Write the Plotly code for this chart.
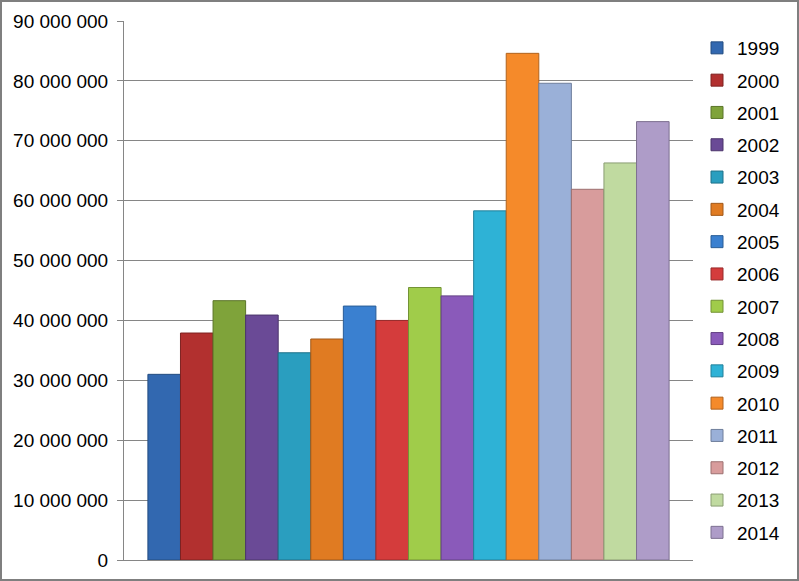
import plotly.graph_objects as go

years = ["1999", "2000", "2001", "2002", "2003", "2004", "2005", "2006",
         "2007", "2008", "2009", "2010", "2011", "2012", "2013", "2014"]
values = [31_000_000, 37_900_000, 43_300_000, 40_900_000, 34_600_000, 36_900_000,
          42_400_000, 40_000_000, 45_500_000, 44_100_000, 58_300_000, 84_600_000,
          79_600_000, 61_900_000, 66_300_000, 73_200_000]
colors = ["#3268B0", "#B2302F", "#7FA33A", "#6A4A96", "#2A9EBF", "#E07B22",
          "#3A80D0", "#D43C3C", "#A0CC4A", "#8A5ABA", "#2EB2D6", "#F58A2A",
          "#9AB0D8", "#D89C9C", "#C0DAA0", "#AE9CC8"]
line_colors = ["#234C80", "#7E2221", "#5B7529", "#4B356B", "#1E7189", "#A15818",
               "#295C96", "#982B2B", "#739335", "#634085", "#21809A", "#B0631E",
               "#6F7F9C", "#9C7070", "#8A9D73", "#7D7090"]
category = [""]

tick_vals = [0, 10_000_000, 20_000_000, 30_000_000, 40_000_000, 50_000_000,
             60_000_000, 70_000_000, 80_000_000, 90_000_000]
tick_text = ["0", "10 000 000", "20 000 000", "30 000 000", "40 000 000", "50 000 000",
             "60 000 000", "70 000 000", "80 000 000", "90 000 000"]

fig = go.Figure()
for yr, v, c, lc in zip(years, values, colors, line_colors):
    fig.add_trace(go.Bar(
        x=category, y=[v], name=yr, legendgroup=yr,
        marker=dict(color=c, line=dict(color=lc, width=1)),
    ))

W, H = 799, 581
ml, mr, mt, mb = 124, 106, 21, 21
pw, ph = W - ml - mr, H - mt - mb

fig.update_layout(
    width=W, height=H,
    margin=dict(l=ml, r=mr, t=mt, b=mb, pad=0, autoexpand=False),
    paper_bgcolor="white", plot_bgcolor="white",
    barmode="group", bargap=0.084, bargroupgap=0,
    font=dict(family="Liberation Sans, Arial, sans-serif", size=19, color="black"),
    showlegend=True,
    legend=dict(
        x=(697 - ml) / pw, xanchor="left", y=(H - mb - 29) / ph, yanchor="top",
        traceorder="grouped", tracegroupgap=4.6,
        font=dict(size=19, color="black"),
        bgcolor="rgba(0,0,0,0)", borderwidth=0,
    ),
    xaxis=dict(
        showticklabels=False, showgrid=False, zeroline=False,
        showline=True, linecolor="#868686", linewidth=1,
        ticks="", range=[-0.5, 0.5], fixedrange=True, automargin=False,
    ),
    yaxis=dict(
        range=[0, 90_000_000], tickvals=tick_vals, ticktext=tick_text,
        showgrid=True, gridcolor="#868686", gridwidth=1,
        zeroline=False, showline=True, linecolor="#868686", linewidth=1,
        ticks="outside", ticklen=6, tickcolor="#868686",
        ticklabelstandoff=5, automargin=False,
        tickfont=dict(size=19, color="black"),
    ),
    shapes=[dict(
        type="rect", xref="paper", yref="paper",
        x0=(-ml + 1) / pw, x1=(W - ml - 1) / pw,
        y0=(-mb + 1) / ph, y1=(H - mb - 1) / ph,
        line=dict(color="#7F7F7F", width=2), fillcolor="rgba(0,0,0,0)",
        layer="above",
    )],
)

fig.write_html(
    "out.html",
    config={"displayModeBar": False},
    post_script="document.body.style.margin='0';document.body.style.overflow='hidden';",
)
